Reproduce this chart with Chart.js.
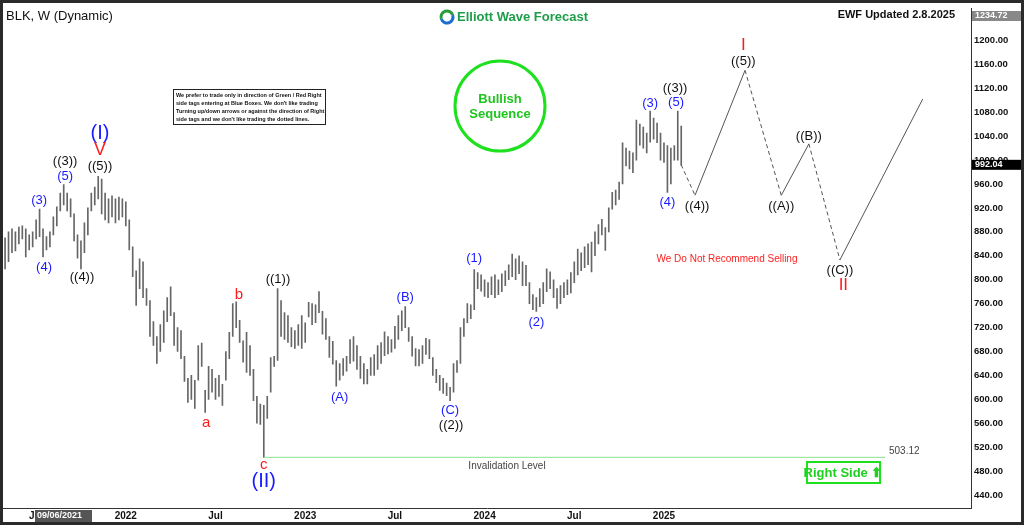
<!DOCTYPE html>
<html>
<head>
<meta charset="utf-8">
<script src="https://cdn.jsdelivr.net/npm/chart.js@4"></script>
<style>
  html, body { margin: 0; padding: 0; background: #fff; }
  #wrap { width: 1024px; height: 525px; }
</style>
</head>
<body>
<div id="wrap"><canvas id="blkChart" width="1024" height="525"></canvas></div>
<script>
// weekly bars, week 0 = early May 2021
const highs = [870,880,885,880,888,890,885,875,880,900,918,885,872,880,905,922,945,959,945,935,
  910,875,865,895,920,945,955,973,968,945,935,940,935,938,935,930,900,855,815,835,
  830,785,765,730,705,725,748,770,788,745,720,715,672,635,640,632,690,694,615,655,
  650,635,640,625,680,712,760,763,732,698,712,690,650,605,592,590,605,670,672,785,
  765,745,740,720,715,725,740,728,762,760,758,780,747,735,705,697,665,660,668,672,
  700,705,690,672,660,650,670,675,690,695,713,705,700,722,740,748,755,720,705,685,
  683,690,702,700,670,650,640,635,627,620,660,665,720,735,760,758,817,812,808,800,
  795,805,808,800,810,815,825,843,835,840,830,824,795,775,770,785,795,818,813,800,
  785,790,795,800,812,830,851,845,855,860,863,880,892,901,887,920,946,950,963,1029,
  1020,1015,1012,1067,1060,1055,1045,1082,1070,1062,1045,1029,1024,1020,1024,1082,1057];
const lows = [818,830,845,848,860,868,838,850,855,868,872,838,850,855,875,890,915,925,915,905,
  865,836,818,845,875,915,925,935,910,900,895,905,895,900,905,890,850,805,757,785,
  770,757,705,690,660,680,695,730,740,690,680,668,630,595,600,585,632,655,578,600,
  612,600,605,590,632,668,705,720,695,662,645,640,598,560,558,503,568,612,655,665,
  705,700,695,688,685,690,685,695,738,725,728,745,709,700,670,659,622,632,640,647,
  660,664,650,635,626,626,640,640,650,660,673,676,679,685,700,715,720,697,672,656,
  656,660,675,668,640,628,615,610,606,598,612,645,660,705,728,735,750,785,781,772,
  770,775,770,775,780,790,800,805,800,810,790,790,760,750,747,755,760,780,785,770,
  752,760,770,775,778,795,808,815,820,825,813,840,860,875,849,880,918,925,934,960,
  990,985,979,1000,1025,1020,1012,1030,1035,1029,1000,996,946,960,1000,1000,991];

// projected wave path
const projWeeks = [196, 200, 214.5, 225, 233, 242, 266];
const projPrices = [992, 941, 1150, 941, 1027, 833, 1102];

// date axis
const tickWeeks = [9, 35, 61, 87, 113, 139, 165, 191];
const tickNames = ['Jul', '2022', 'Jul', '2023', 'Jul', '2024', 'Jul', '2025'];

const lastPrice = 992.04;
const invalidation = 503.12;

// wave labels: text, week, price, colour, size
const waveLabels = [
  ['(I)', 27.5, 1045, '#1a1aff', 20], ['V', 27.5, 1016, '#ff1a1a', 18],
  ['((5))', 27.5, 989, '#111', 13], ['((3))', 17.4, 997, '#111', 13],
  ['(5)', 17.4, 972, '#1a1aff', 13], ['(3)', 9.9, 933, '#1a1aff', 13],
  ['(4)', 11.3, 821, '#1a1aff', 13], ['((4))', 22.3, 803, '#111', 13],
  ['a', 58.3, 561, '#ff1a1a', 15], ['b', 67.8, 775, '#ff1a1a', 15],
  ['((1))', 79.1, 801, '#111', 13], ['c', 75, 490, '#ff1a1a', 15],
  ['(II)', 75, 463, '#1a1aff', 20], ['(A)', 97, 604, '#1a1aff', 13],
  ['(B)', 116, 770, '#1a1aff', 13], ['(C)', 129, 581, '#1a1aff', 13],
  ['((2))', 129.3, 556, '#111', 13], ['(1)', 136, 835, '#1a1aff', 13],
  ['(2)', 154, 729, '#1a1aff', 13], ['(3)', 187, 1095, '#1a1aff', 13],
  ['(5)', 194.5, 1097, '#1a1aff', 13], ['((3))', 194.2, 1119, '#111', 13],
  ['(4)', 192, 929, '#1a1aff', 13], ['((4))', 200.6, 923, '#111', 13],
  ['I', 214, 1192, '#ff1a1a', 17], ['((5))', 214, 1165, '#111', 13],
  ['((A))', 225, 923, '#111', 13], ['((B))', 233, 1040, '#111', 13],
  ['((C))', 242, 815, '#111', 13], ['II', 243, 790, '#ff1a1a', 17]
];

const bars = highs.map((h, i) => ({ x: i, y: [lows[i], h] }));
const proj = projWeeks.map((w, i) => ({ x: w, y: projPrices[i] }));

const FONT = 'Liberation Sans, Arial, sans-serif';

const decor = {
  id: 'decor',
  beforeDraw(chart) {
    const c = chart.ctx;
    c.save();
    c.fillStyle = '#fff';
    c.fillRect(0, 0, chart.width, chart.height);
    c.restore();
  },
  afterDraw(chart) {
    const c = chart.ctx, xs = chart.scales.x, ys = chart.scales.y, a = chart.chartArea;
    c.save();
    // invalidation line
    const yi = ys.getPixelForValue(invalidation);
    c.strokeStyle = '#8be38b'; c.lineWidth = 1;
    c.beginPath(); c.moveTo(xs.getPixelForValue(75), yi); c.lineTo(885, yi); c.stroke();
    c.fillStyle = '#444'; c.font = '10px ' + FONT; c.textAlign = 'left'; c.textBaseline = 'middle';
    c.fillText('503.12', 889, yi - 6);
    c.textAlign = 'center';
    c.fillText('Invalidation Level', 507, 466);

    // wave labels
    c.textBaseline = 'middle';
    waveLabels.forEach(([t, w, p, col, sz]) => {
      c.fillStyle = col; c.font = sz + 'px ' + FONT;
      c.fillText(t, xs.getPixelForValue(w), ys.getPixelForValue(p));
    });

    // title texts
    c.textAlign = 'left'; c.fillStyle = '#111'; c.font = '13px ' + FONT;
    c.fillText('BLK, W (Dynamic)', 6, 16);
    c.font = 'bold 11px ' + FONT; c.textAlign = 'right';
    c.fillText('EWF Updated 2.8.2025', 955, 15);
    // logo
    c.lineWidth = 3; c.strokeStyle = '#2a9d3c';
    c.beginPath(); c.arc(447, 17, 6, Math.PI * 0.9, Math.PI * 1.9); c.stroke();
    c.strokeStyle = '#1f6fd1';
    c.beginPath(); c.arc(447, 17, 6, Math.PI * 1.9, Math.PI * 2.9); c.stroke();
    c.textAlign = 'left'; c.fillStyle = '#1e9e4a'; c.font = 'bold 13px ' + FONT;
    c.fillText('Elliott Wave Forecast', 457, 17);

    // bullish circle
    c.strokeStyle = '#1fe01f'; c.lineWidth = 3;
    c.beginPath(); c.arc(500, 106, 45, 0, Math.PI * 2); c.stroke();
    c.fillStyle = '#1fc41f'; c.font = 'bold 13px ' + FONT; c.textAlign = 'center';
    c.fillText('Bullish', 500, 99); c.fillText('Sequence', 500, 114);

    // info box
    c.fillStyle = '#fff'; c.strokeStyle = '#222'; c.lineWidth = 1;
    c.fillRect(173.5, 89.5, 152, 35); c.strokeRect(173.5, 89.5, 152, 35);
    c.fillStyle = '#111'; c.font = 'bold 5.5px ' + FONT; c.textAlign = 'left';
    ['We prefer to trade only in direction of Green / Red Right',
     'side tags entering at Blue Boxes. We don\'t like trading',
     'Turning up/down arrows or against the direction of Right',
     'side tags and we don\'t like trading the dotted lines.'].forEach((l, i) => c.fillText(l, 176, 95 + i * 8));

    c.fillStyle = '#ff2020'; c.font = '10px ' + FONT; c.textAlign = 'center';
    c.fillText('We Do Not Recommend Selling', 727, 259);

    // right side tag
    c.strokeStyle = '#1fe01f'; c.lineWidth = 2;
    c.strokeRect(807, 462, 73, 21);
    c.fillStyle = '#1fd01f'; c.font = 'bold 13px ' + FONT;
    c.fillText('Right Side \u2B06', 843, 473);

    // price tags
    const yp = ys.getPixelForValue(lastPrice);
    c.fillStyle = '#000'; c.fillRect(a.right + 1, yp - 5, 50, 10);
    c.fillStyle = '#fff'; c.font = 'bold 9px ' + FONT; c.textAlign = 'left';
    c.fillText('992.04', a.right + 4, yp);
    c.fillStyle = '#888'; c.fillRect(a.right + 1, 11, 50, 10);
    c.fillStyle = '#fff'; c.fillText('1234.72', a.right + 4, 16);

    // date tag
    c.fillStyle = '#555'; c.fillRect(35, a.bottom + 2, 57, 12);
    c.fillStyle = '#fff'; c.font = 'bold 9px ' + FONT;
    c.fillText('09/06/2021', 37, a.bottom + 8);

    // frame
    c.strokeStyle = '#2a2a2a'; c.lineWidth = 4;
    c.strokeRect(1, 1, chart.width - 2, chart.height - 2);
    c.restore();
  }
};

new Chart(document.getElementById('blkChart').getContext('2d'), {
  data: {
    datasets: [{
      type: 'bar',
      data: bars,
      backgroundColor: '#666',
      barThickness: 1,
      grouped: false
    }, {
      type: 'line',
      data: proj,
      borderColor: '#555',
      borderWidth: 1,
      pointRadius: 0,
      segment: { borderDash: ctx => (ctx.p0DataIndex % 2 === 0 ? [4, 3] : undefined) }
    }]
  },
  options: {
    responsive: false,
    animation: false,
    layout: { padding: { top: 5, left: 3, right: 3, bottom: 3 } },
    plugins: { legend: { display: false }, tooltip: { enabled: false } },
    scales: {
      x: {
        type: 'linear', min: -0.6, max: 280, offset: false,
        grid: { display: false, drawTicks: false },
        border: { color: '#333' },
        afterBuildTicks: s => { s.ticks = tickWeeks.map(v => ({ value: v })); },
        afterFit: s => { s.height = 14; },
        ticks: {
          maxRotation: 0, autoSkip: false, padding: 2,
          color: '#111', font: { family: FONT, size: 10, weight: 'bold' },
          callback: v => tickNames[tickWeeks.indexOf(v)]
        }
      },
      y: {
        position: 'right', min: 418.4, max: 1253,
        grid: { display: false, drawTicks: false },
        border: { color: '#333' },
        afterBuildTicks: s => {
          const t = [];
          for (let v = 440; v <= 1240; v += 40) t.push({ value: v });
          s.ticks = t;
        },
        afterFit: s => { s.width = 50; },
        ticks: {
          padding: 3, color: '#111', font: { family: FONT, size: 9.5, weight: 'bold' },
          callback: v => v.toFixed(2)
        }
      }
    }
  },
  plugins: [decor]
});
</script>
</body>
</html>
